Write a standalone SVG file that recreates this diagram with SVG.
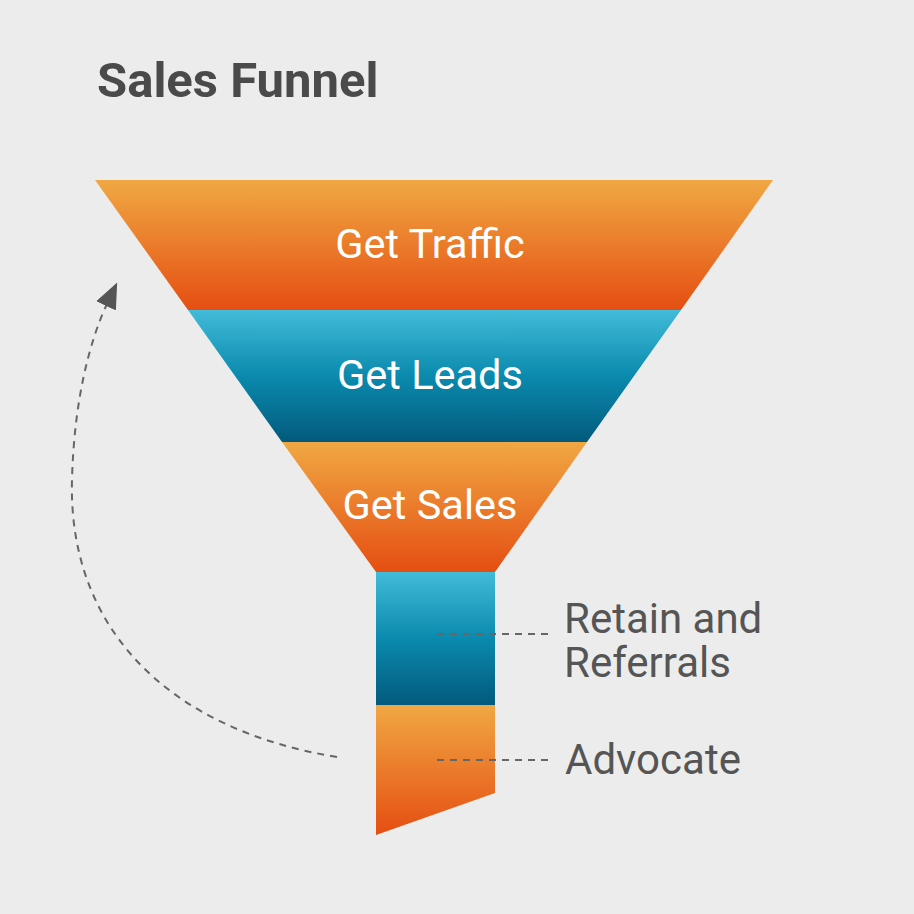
<svg xmlns="http://www.w3.org/2000/svg" width="914" height="914" viewBox="0 0 914 914">
  <defs>
    <linearGradient id="gOrange" x1="0" y1="0" x2="0" y2="1">
      <stop offset="0" stop-color="#f0a843"/>
      <stop offset="1" stop-color="#e54e12"/>
    </linearGradient>
    <linearGradient id="gBlue" x1="0" y1="0" x2="0" y2="1">
      <stop offset="0" stop-color="#42bbd8"/>
      <stop offset="0.5" stop-color="#0a8aae"/>
      <stop offset="1" stop-color="#035a7c"/>
    </linearGradient>
    <marker id="arrowBig" viewBox="0 0 24 24" refX="2" refY="12" markerWidth="26" markerHeight="26" markerUnits="userSpaceOnUse" orient="auto">
      <path d="M0,2 L24,12 L0,22 Z" fill="#555"/>
    </marker>
  </defs>
  <style>
    .band-label { font-family: Roboto, "Liberation Sans", sans-serif; font-size: 41.5px; fill: #ffffff; text-anchor: middle; }
    .side-label { font-family: Roboto, "Liberation Sans", sans-serif; font-size: 42px; fill: #555555; }
    .title { font-family: Roboto, "Liberation Sans", sans-serif; font-size: 49px; font-weight: bold; fill: #4a4a4a; }
    .dash { fill: none; stroke: #666666; stroke-width: 2; stroke-dasharray: 7 6; }
  </style>
  <rect x="0" y="0" width="914" height="914" fill="#ececec"/>

  <text class="title" x="97" y="97">Sales Funnel</text>

  <g id="get-traffic">
    <polygon points="95,180 773,180 681,310 188,310" fill="url(#gOrange)"/>
    <text class="band-label" x="430" y="258">Get Traffic</text>
  </g>
  <g id="get-leads">
    <polygon points="188,310 681,310 587,442 282,442" fill="url(#gBlue)"/>
    <text class="band-label" x="430" y="389">Get Leads</text>
  </g>
  <g id="get-sales">
    <polygon points="282,442 587,442 495,572 376,572" fill="url(#gOrange)"/>
    <text class="band-label" x="430" y="519">Get Sales</text>
  </g>
  <g id="retain">
    <rect x="376" y="572" width="119" height="133" fill="url(#gBlue)"/>
    <text class="side-label" x="564" y="633"><tspan x="564" y="633">Retain and</tspan><tspan x="564" y="677">Referrals</tspan></text>
  </g>
  <g id="advocate">
    <polygon points="376,705 495,705 495,793 376,835" fill="url(#gOrange)"/>
    <text class="side-label" x="565" y="774">Advocate</text>
  </g>

  <g id="connectors">
    <path class="dash" d="M437,634 L551,634"/>
    <path class="dash" d="M437,760 L551,760"/>
    <path class="dash" d="M337,757 C170,730 68,630 72,480 C74,400 90,340 107,304" marker-end="url(#arrowBig)"/>
  </g>
</svg>
